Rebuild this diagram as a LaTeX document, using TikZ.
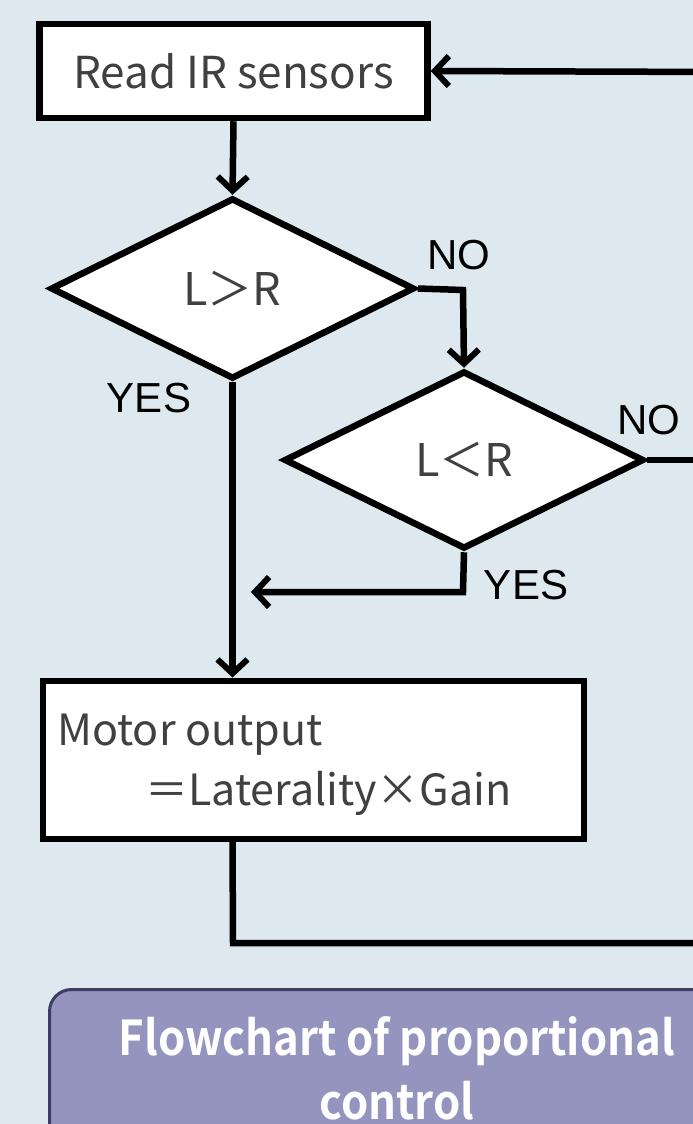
\documentclass[tikz,border=0pt]{standalone}
\usepackage{fontspec}
\newfontfamily\jpfont{Noto Sans CJK JP}
\newfontfamily\jpbold{Noto Sans CJK JP Bold}
\newfontfamily\labfont{Liberation Sans}
\usetikzlibrary{shapes.geometric,arrows.meta}
\definecolor{bgblue}{HTML}{DDE8EF}
\definecolor{txtgray}{HTML}{404040}
\definecolor{titlefill}{HTML}{9494BE}
\definecolor{titledraw}{HTML}{3C3C64}
\tikzset{
  flowline/.style={line width=6.5pt, draw=black},
  arr/.style={flowline, -{Straight Barb[length=14pt,width=30pt,line width=6pt]}},
  procbox/.style={rectangle, draw=black, line width=6.5pt, fill=white, inner sep=0pt,
    font=\jpfont\fontsize{44}{52}\selectfont, text=txtgray},
  decbox/.style={diamond, draw=black, line width=6.5pt, fill=white, inner sep=0pt,
    font=\jpfont\fontsize{45}{52}\selectfont, text=txtgray},
  motortxt/.style={font=\jpfont\fontsize{43}{52}\selectfont, text=txtgray, anchor=west, inner sep=0pt},
  lab/.style={font=\labfont\fontsize{42}{48}\selectfont, text=black, inner sep=0pt},
}
\begin{document}
\begin{tikzpicture}[x=1pt,y=-1pt]
\fill[bgblue] (0,0) rectangle (693,1124);
\useasboundingbox (0,0) rectangle (693,1124);
\clip (0,0) rectangle (693,1124);

\node[procbox, minimum width=388pt, minimum height=94pt] (read) at (233.5,71) {Read IR sensors};
\node[decbox, minimum width=364pt, minimum height=181pt] (d1) at (232.5,288.5) {L＞R};
\node[decbox, minimum width=360pt, minimum height=178pt] (d2) at (464,460) {L＜R};
\node[procbox, minimum width=541pt, minimum height=158pt, anchor=north west] (motor) at (39.5,677.5) {};
\node[motortxt] (m1) at (57,735) {Motor output};
\node[motortxt] (m2) at (145,793) {＝Laterality×Gain};

\node[lab] (no1) at (459,255) {NO};
\node[lab] (yes1) at (149,398) {YES};
\node[lab] (no2) at (649,420) {NO};
\node[lab] (yes2) at (526,585) {YES};

\coordinate (c1) at (463,290);
\coordinate (c2) at (463,592);
\coordinate (c3) at (251,592);
\coordinate (c4) at (233,943);
\coordinate (farR) at (720,943);
\coordinate (farT) at (720,72);

\draw[arr] (read.south) -- (d1.north);
\draw[arr] (d1.east) -- (c1) -- (d2.north);
\draw[arr] (d1.south) -- (d1.south |- motor.north);
\draw[arr] (d2.south) -- (c2) -- (c3);
\draw[flowline] (d2.east) -- (d2.east -| farR);
\draw[arr] (motor.south -| d1.south) -- (c4) -- (farR) -- (farT) -- (read.east);

\node[rectangle, rounded corners=22pt, fill=titlefill, draw=titledraw, line width=3pt,
  minimum width=700pt, minimum height=200pt, anchor=north west] (title) at (48,988) {};
\node[font=\jpbold\fontsize{48}{64}\selectfont, text=white, align=center, inner sep=0pt,
  xscale=0.91, transform shape] (ttext) at (397,1068) {Flowchart of proportional\\control};
\end{tikzpicture}
\end{document}
